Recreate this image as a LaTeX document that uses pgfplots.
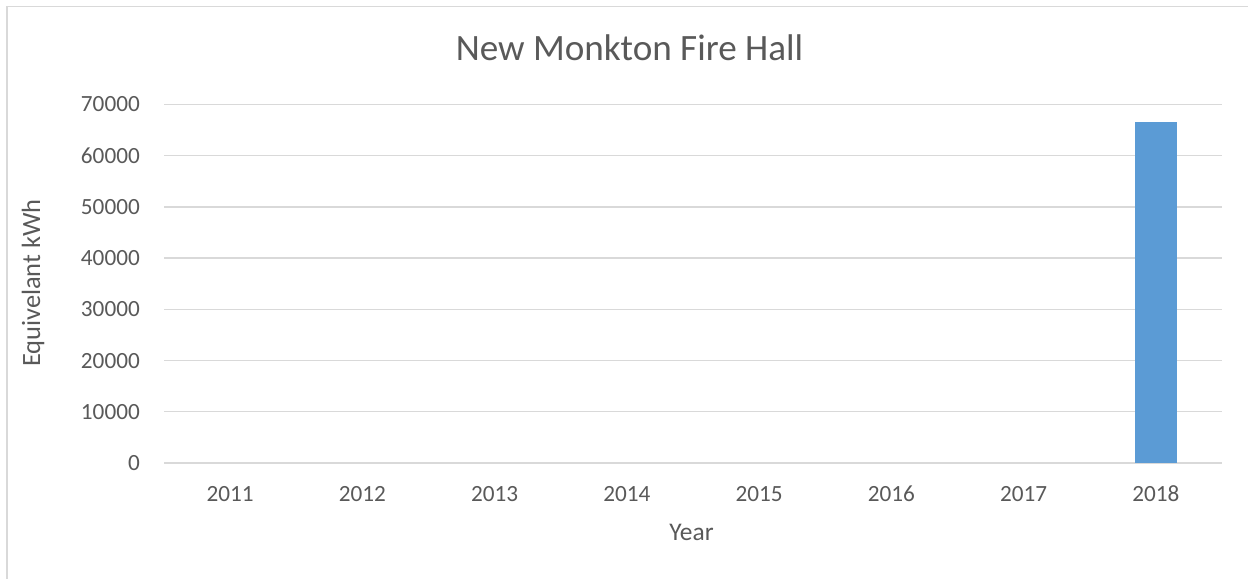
\documentclass[border=0pt]{standalone}
\usepackage{fontspec}
\setmainfont{Carlito}
\usepackage{pgfplots}
\pgfplotsset{compat=1.18}
\definecolor{txt}{HTML}{595959}
\definecolor{gridc}{HTML}{D9D9D9}
\definecolor{barc}{HTML}{5B9BD5}
\begin{document}
\begin{tikzpicture}[x=1bp,y=1bp]
\path[use as bounding box] (0,0) rectangle (1248,579);
\draw[gridc, line width=1.3bp] (7,0) -- (7,572.5) -- (1248,572.5);
\begin{axis}[
  at={(164bp,116bp)}, anchor=south west,
  width=1058bp, height=358.5bp, scale only axis,
  xmin=0, xmax=8, ymin=0, ymax=70000,
  axis line style={draw=none},
  major tick length=0pt,
  ytick={0,10000,...,70000},
  xtick={0.5,1.5,...,7.5},
  xticklabels={2011,2012,2013,2014,2015,2016,2017,2018},
  scaled y ticks=false,
  /pgf/number format/assume math mode=true,
  yticklabel={\pgfmathprintnumber[fixed,precision=0,1000 sep={}]{\tick}},
  ymajorgrids,
  grid style={gridc, line width=1.3bp},
  tick label style={font=\fontsize{23.3}{26}\selectfont, text=txt, inner sep=0pt},
  yticklabel style={anchor=east, xshift=-24bp},
  xticklabel style={anchor=base, yshift=-39bp},
]
\addplot[ybar, bar width=42bp, fill=barc, draw=none] coordinates {(7.5,66600)};
\end{axis}
\node[text=txt, font=\fontsize{37.3}{40}\selectfont, anchor=base, inner sep=0pt] at (629.5,518.3) {New Monkton Fire Hall};
\node[text=txt, font=\fontsize{25.5}{28}\selectfont, anchor=base, inner sep=0pt] at (691.5,38.3) {Year};
\node[text=txt, font=\fontsize{26.5}{28}\selectfont, rotate=90, inner sep=0pt] at (33,296) {Equivelant kWh};
\end{tikzpicture}
\end{document}
